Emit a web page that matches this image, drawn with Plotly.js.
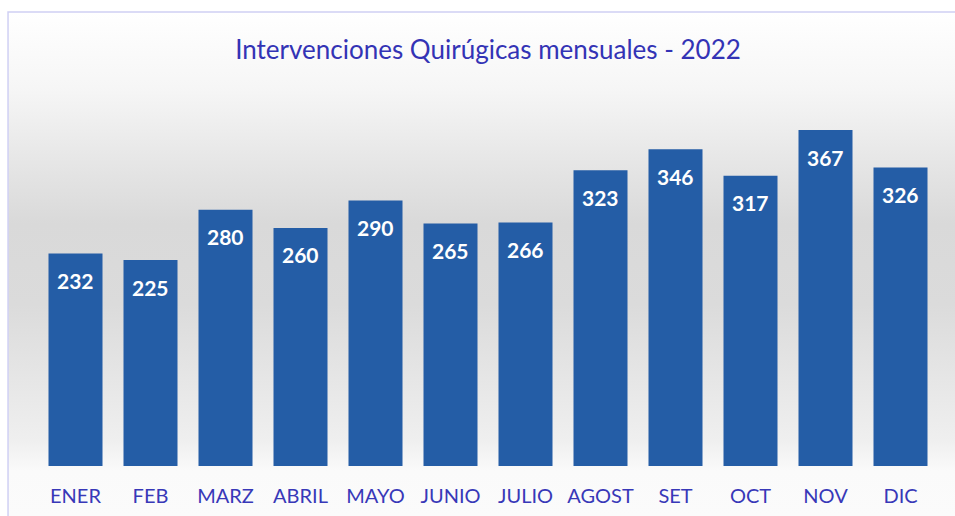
<!DOCTYPE html>
<html>
<head>
<meta charset="utf-8">
<script src="https://cdn.plot.ly/plotly-3.0.1.min.js"></script>
<style>html,body{margin:0;padding:0;background:#fff;}#chart{width:955px;height:516px;}</style>
</head>
<body>
<div id="chart"></div>
<script>
const months = ["ENER","FEB","MARZ","ABRIL","MAYO","JUNIO","JULIO","AGOST","SET","OCT","NOV","DIC"];
const values = [232,225,280,260,290,265,266,323,346,317,367,326];
const chartTitle = "Intervenciones Quirúgicas mensuales - 2022";

const bgSvg = '<svg xmlns="http://www.w3.org/2000/svg" width="100" height="504" preserveAspectRatio="none" viewBox="0 0 100 504">' +
 '<defs><linearGradient id="g" x1="0" y1="0" x2="0" y2="1">' +
 '<stop offset="0" stop-color="#ffffff"/>' +
 '<stop offset="0.15" stop-color="#f6f6f6"/>' +
 '<stop offset="0.42" stop-color="#d9d9d9"/>' +
 '<stop offset="0.58" stop-color="#dbdbdb"/>' +
 '<stop offset="0.85" stop-color="#efefef"/>' +
 '<stop offset="0.91" stop-color="#fafafa"/>' +
 '<stop offset="1" stop-color="#fbfbfb"/>' +
 '</linearGradient></defs><rect x="0" y="0" width="100" height="504" fill="url(#g)"/></svg>';
const bgUri = 'data:image/svg+xml;charset=utf-8,' + encodeURIComponent(bgSvg);

const trace = {
  type: 'bar',
  x: months,
  y: values,
  marker: {color: '#245DA6'},
  hoverinfo: 'x+y'
};

const annotations = months.map((m, i) => ({
  x: m, y: values[i], xref: 'x', yref: 'y',
  text: String(values[i]), showarrow: false,
  yanchor: 'middle', yshift: -27,
  font: {family: 'Lato, "Open Sans", sans-serif', size: 21, color: '#ffffff', weight: 'bold'}
}));

const layout = {
  width: 955, height: 516,
  margin: {l: 38, r: 17, t: 85, b: 50},
  paper_bgcolor: '#ffffff',
  plot_bgcolor: 'rgba(0,0,0,0)',
  bargap: 0.28,
  showlegend: false,
  title: {
    text: chartTitle,
    x: 0.5, xref: 'paper', xanchor: 'center',
    y: 1 - 50/516, yref: 'container', yanchor: 'middle',
    font: {family: 'Lato, "Open Sans", sans-serif', size: 26, color: '#3333B5'}
  },
  xaxis: {
    type: 'category',
    showgrid: false, zeroline: false, showline: false,
    ticks: '', ticklabelstandoff: 16,
    tickfont: {family: 'Lato, "Open Sans", sans-serif', size: 20, color: '#3838B8'}
  },
  yaxis: {
    range: [0, 416.2],
    visible: false, showgrid: false, zeroline: false
  },
  images: [{
    source: bgUri, xref: 'paper', yref: 'paper',
    x: -0.0333, y: 1.1916, sizex: 1.0522, sizey: 1.3228,
    xanchor: 'left', yanchor: 'top', sizing: 'stretch', layer: 'below'
  }],
  shapes: [{
    type: 'rect', xref: 'paper', yref: 'paper',
    x0: -0.0333, x1: 1.03, y0: -0.2, y1: 1.1916,
    line: {color: '#d0d0f4', width: 1.5}, fillcolor: 'rgba(0,0,0,0)', layer: 'above'
  }],
  annotations: annotations
};

Plotly.newPlot('chart', [trace], layout, {displayModeBar: false, staticPlot: true});
</script>
</body>
</html>
